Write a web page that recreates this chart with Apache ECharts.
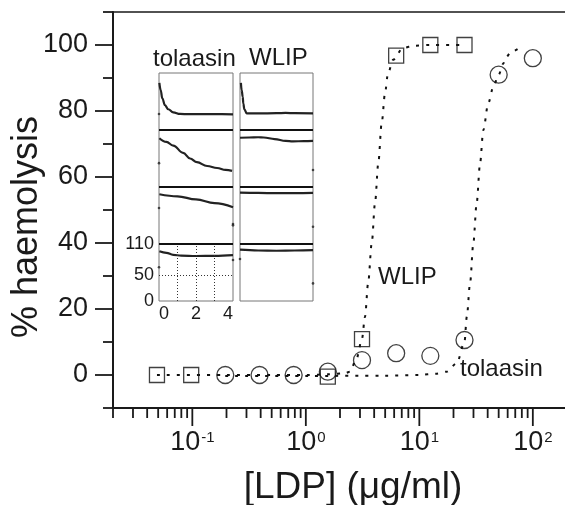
<!DOCTYPE html>
<html><head><meta charset="utf-8">
<script src="https://cdn.jsdelivr.net/npm/echarts@6/dist/echarts.min.js"></script>
<style>html,body{margin:0;padding:0;background:#fff}#c{width:565px;height:505px}</style>
</head><body><div id="c"></div>
<script>
// ---------- main chart data ----------
const wlipConc = [0.0488, 0.0977, 1.5625, 3.125, 6.25, 12.5, 25];
const wlipHaem = [0, 0, -0.5, 10.9, 96.8, 100, 100];
const tolConc  = [0.195, 0.391, 0.781, 1.5625, 3.125, 6.25, 12.5, 25, 50, 100];
const tolHaem  = [0, 0, 0, 1, 4.5, 6.6, 5.8, 10.6, 91, 96];
// fitted (dotted) curves
const wlipFitConc = [0.0488, 0.2, 0.5, 1.0, 1.6, 2.2, 2.45, 2.8, 3.125, 3.32, 3.54, 3.81, 4.07, 4.35, 4.66, 4.99, 5.30, 5.87, 7.18, 9, 12.5, 25];
const wlipFitHaem = [0, 0, 0, 0, 0.2, 0.5, 1, 5, 11, 17.6, 27.9, 40, 52.1, 64.2, 76.4, 85.5, 91.5, 95.5, 99.1, 99.8, 100, 100];
const tolFitConc = [0.195, 1, 5, 10, 14, 17.4, 21.4, 25, 26.2, 28.0, 29.9, 32.0, 34.3, 36.6, 40.5, 44.9, 50, 55, 57, 65, 80];
const tolFitHaem = [-0.3, -0.3, -0.2, 0, 0.4, 1, 3.6, 10, 17.7, 27.9, 39.9, 52.1, 64.2, 74.2, 82.4, 87.4, 91, 94.4, 96, 98, 99.6];
// axis ticks / labels
const xMajorTicks = [0.1, 1, 10, 100];
const xMinorTicks = [0.02,0.03,0.04,0.05,0.06,0.07,0.08,0.09,0.2,0.3,0.4,0.5,0.6,0.7,0.8,0.9,2,3,4,5,6,7,8,9,20,30,40,50,60,70,80,90];
const yMajorTicks = [0, 20, 40, 60, 80, 100];
const yMinorTicks = [-10, 10, 30, 50, 70, 90, 110];
const yLabelValues = [0, 20, 40, 60, 80, 100];

// ---------- inset data (time in min, signal 0-110) ----------
const tolT1 = [0.02, 0.09, 0.18, 0.32, 0.5, 0.77, 1.14, 1.6, 2.2, 2.8, 3.4, 4];
const tolV1 = [91, 77, 61, 48, 40, 34, 31, 30.5, 30.5, 30.5, 30.5, 30.3];
const tolS1 = [[0, 31]];
const tolT2 = [0.02, 0.4, 0.77, 1.3, 1.68, 2.05, 2.6, 3.14, 3.6, 3.95];
const tolV2 = [94, 87, 80, 66, 55, 48, 40.5, 36.7, 33, 31];
const tolS2 = [[0, 46]];
const tolT3 = [0.02, 1, 2, 3, 4];
const tolV3 = [96, 92, 86, 79, 71];
const tolS3 = [[0, 69.5], [4, 38.6], [4, 36]];
const tolT4 = [0.02, 0.4, 0.77, 1.2, 2, 3, 4];
const tolV4 = [96, 93, 89, 87.5, 86.8, 87, 88.5];
const tolS4 = [[0, 65], [4, 79]];
const wlT1 = [0.05, 0.09, 0.15, 0.18, 0.24, 0.37, 1, 2, 2.5, 3, 4];
const wlV1 = [91, 77, 64, 51.5, 40, 32.2, 32, 32.5, 33, 32.5, 32.2];
const wlS1 = [];
const wlT2 = [0, 0.5, 1.0, 1.3, 1.9, 2.5, 2.9, 3.5, 4];
const wlV2 = [95, 95.5, 96, 95.5, 92.5, 89, 88, 88.5, 89];
const wlS2 = [[4, 32.8]];
const wlT3 = [0, 1, 2, 3, 4];
const wlV3 = [99, 98.5, 98, 98, 98.5];
const wlS3 = [[4, 33.4]];
const wlT4 = [0, 1, 2, 3, 4];
const wlV4 = [99, 97.5, 97, 97.5, 98];
const wlS4 = [[0, 81], [4, 34]];
const insetXLabels = [0, 2, 4];
const insetYLabels = [0, 50, 110];
const insetGridX = [1, 2, 3];
const insetGridY = [50];

const X_MIN = 0.02, X_MAX = 200, Y_MIN = -10, Y_MAX = 110;
const IN_XMAX = 4, IN_YMAX = 110;
const FONT = "'Liberation Sans', Arial, Helvetica, sans-serif";
const INK = '#1a1a1a';

const zip = (a, b) => a.map((v, i) => [v, b[i]]);

const chart = echarts.init(document.getElementById('c'), null, {renderer: 'canvas'});

const grids = [{left: 113, top: 12, width: 454, height: 396, outerBoundsMode: 'none', containLabel: false}];
const xAxes = [
  {type: 'log', logBase: 10, min: X_MIN, max: X_MAX, gridIndex: 0, position: 'bottom',
   axisLine: {show: true, onZero: false, lineStyle: {color: INK, width: 2}},
   axisTick: {show: false}, splitLine: {show: false}, minorTick: {show: false},
   axisLabel: {show: true, margin: 21, showMinLabel: false, showMaxLabel: false,
     formatter: function (v) {
       const e = Math.log10(v), r = Math.round(e);
       if (Math.abs(e - r) > 1e-6) return '';
       if (!xMajorTicks.some(t => Math.abs(Math.log10(t) - r) < 1e-6)) return '';
       return '{b|10}{s|' + r + '}';
     },
     rich: {
       b: {fontSize: 27, fontFamily: FONT, color: INK, lineHeight: 27},
       s: {fontSize: 15, fontFamily: FONT, color: INK, lineHeight: 15, verticalAlign: 'top', padding: [1, 0, 0, 1]}
     }}},
  {type: 'log', logBase: 10, min: X_MIN, max: X_MAX, gridIndex: 0, position: 'top',
   axisLine: {show: true, onZero: false, lineStyle: {color: INK, width: 1.6}},
   axisTick: {show: false}, axisLabel: {show: false}, splitLine: {show: false}}
];
const yAxes = [
  {type: 'value', min: Y_MIN, max: Y_MAX, interval: 10, gridIndex: 0,
   axisLine: {show: true, onZero: false, lineStyle: {color: INK, width: 2}},
   axisTick: {show: false}, splitLine: {show: false},
   axisLabel: {margin: 25, fontSize: 27, fontFamily: FONT, color: INK,
     formatter: v => yLabelValues.includes(v) ? String(v) : ''}}
];

function tickSeries(axis, values, len) {
  return {
    type: 'custom', xAxisIndex: 0, yAxisIndex: 0, clip: false, silent: true, z: 5,
    data: values.map(v => axis === 'y' ? [X_MIN, v] : [v, Y_MIN]),
    renderItem: function (params, api) {
      const p = api.coord([api.value(0), api.value(1)]);
      const shape = axis === 'y'
        ? {x1: p[0] - len, y1: p[1], x2: p[0], y2: p[1]}
        : {x1: p[0], y1: p[1], x2: p[0], y2: p[1] + len};
      return {type: 'line', shape: shape, style: {stroke: INK, lineWidth: 1.8}};
    }
  };
}

const series = [
  tickSeries('y', yMajorTicks, 18),
  tickSeries('y', yMinorTicks, 10),
  tickSeries('x', xMajorTicks, 18),
  tickSeries('x', xMinorTicks, 10),
  {type: 'line', name: 'WLIP fit', xAxisIndex: 0, yAxisIndex: 0, data: zip(wlipFitConc, wlipFitHaem),
   showSymbol: false, symbol: 'none', smooth: 0.3, smoothMonotone: 'x', silent: true,
   lineStyle: {color: '#111', width: 2, type: [3, 7]}},
  {type: 'line', name: 'tolaasin fit', xAxisIndex: 0, yAxisIndex: 0, data: zip(tolFitConc, tolFitHaem),
   showSymbol: false, symbol: 'none', smooth: 0.3, smoothMonotone: 'x', silent: true,
   lineStyle: {color: '#111', width: 2, type: [3, 7]}},
  {type: 'scatter', name: 'WLIP', xAxisIndex: 0, yAxisIndex: 0, data: zip(wlipConc, wlipHaem),
   symbol: 'rect', symbolSize: 15, silent: true,
   itemStyle: {color: 'rgba(0,0,0,0)', borderColor: '#111', borderWidth: 1.3}},
  {type: 'scatter', name: 'tolaasin', xAxisIndex: 0, yAxisIndex: 0, data: zip(tolConc, tolHaem),
   symbol: 'circle', symbolSize: 17, silent: true,
   itemStyle: {color: 'rgba(0,0,0,0)', borderColor: '#111', borderWidth: 1.3}}
];

// ---------- inset panels ----------
const colLeft = [159, 240], colWidth = [74, 73];
const rowTop = [73, 130, 187, 244], rowH = 57;
const panels = [
  [tolT1, tolV1, tolS1], [tolT2, tolV2, tolS2], [tolT3, tolV3, tolS3], [tolT4, tolV4, tolS4],
  [wlT1, wlV1, wlS1], [wlT2, wlV2, wlS2], [wlT3, wlV3, wlS3], [wlT4, wlV4, wlS4]
];
panels.forEach((p, k) => {
  const col = Math.floor(k / 4), row = k % 4;
  const gi = grids.length;
  grids.push({left: colLeft[col], top: rowTop[row], width: colWidth[col], height: rowH,
    show: true, borderColor: '#777', borderWidth: 1, backgroundColor: 'rgba(0,0,0,0)',
    outerBoundsMode: 'none', containLabel: false});
  const labelled = (col === 0 && row === 3);
  const xi = xAxes.length, yi = yAxes.length;
  xAxes.push({type: 'value', gridIndex: gi, min: 0, max: IN_XMAX, interval: 2,
    axisLine: {show: false, onZero: false}, axisTick: {show: false}, splitLine: {show: false},
    axisLabel: {show: labelled, margin: 4, fontSize: 18, fontFamily: FONT, color: INK,
      alignMinLabel: 'left', alignMaxLabel: 'right',
      formatter: v => insetXLabels.includes(v) ? String(v) : ''}});
  yAxes.push({type: 'value', gridIndex: gi, min: 0, max: IN_YMAX, interval: 10,
    axisLine: {show: false, onZero: false}, axisTick: {show: false}, splitLine: {show: false},
    axisLabel: {show: labelled, margin: 5, fontSize: 18, fontFamily: FONT, color: INK,
      formatter: v => insetYLabels.includes(v) ? String(v) : ''}});
  const ml = [];
  if (row > 0) ml.push({yAxis: IN_YMAX, lineStyle: {type: 'solid', color: '#111', width: 2}});
  if (labelled) {
    insetGridY.forEach(v => ml.push({yAxis: v, lineStyle: {type: [1, 2], color: '#333', width: 1}}));
    insetGridX.forEach(v => ml.push({xAxis: v, lineStyle: {type: [1, 2], color: '#333', width: 1}}));
  }
  series.push({type: 'line', xAxisIndex: xi, yAxisIndex: yi, data: zip(p[0], p[1]),
    symbol: 'none', showSymbol: false, smooth: 0.4, smoothMonotone: 'x', silent: true,
    lineStyle: {color: '#222', width: 2.2},
    markLine: {symbol: ['none', 'none'], silent: true, animation: false, label: {show: false},
      data: ml}});
  if (p[2].length) series.push({type: 'scatter', xAxisIndex: xi, yAxisIndex: yi, data: p[2],
    symbol: 'circle', symbolSize: 2.6, silent: true, itemStyle: {color: '#222'}});
});

const option = {
  animation: false,
  backgroundColor: '#fff',
  grid: grids, xAxis: xAxes, yAxis: yAxes, series: series,
  graphic: [
    {type: 'text', x: 27, y: 227, rotation: Math.PI / 2,
     style: {text: '% haemolysis', font: '36px ' + FONT, fill: INK, align: 'center', verticalAlign: 'middle'}},
    {type: 'text', x: 353, y: 488,
     style: {text: '[LDP] (\u03bcg/ml)', font: '37px ' + FONT, fill: INK, align: 'center', verticalAlign: 'middle'}},
    {type: 'text', x: 378, y: 277,
     style: {text: 'WLIP', font: '24px ' + FONT, fill: INK, align: 'left', verticalAlign: 'middle'}},
    {type: 'text', x: 460, y: 369,
     style: {text: 'tolaasin', font: '24px ' + FONT, fill: INK, align: 'left', verticalAlign: 'middle'}},
    {type: 'text', x: 153, y: 59,
     style: {text: 'tolaasin', font: '24px ' + FONT, fill: INK, align: 'left', verticalAlign: 'middle'}},
    {type: 'text', x: 249, y: 58,
     style: {text: 'WLIP', font: '24px ' + FONT, fill: INK, align: 'left', verticalAlign: 'middle'}}
  ]
};
chart.setOption(option);
</script></body></html>
